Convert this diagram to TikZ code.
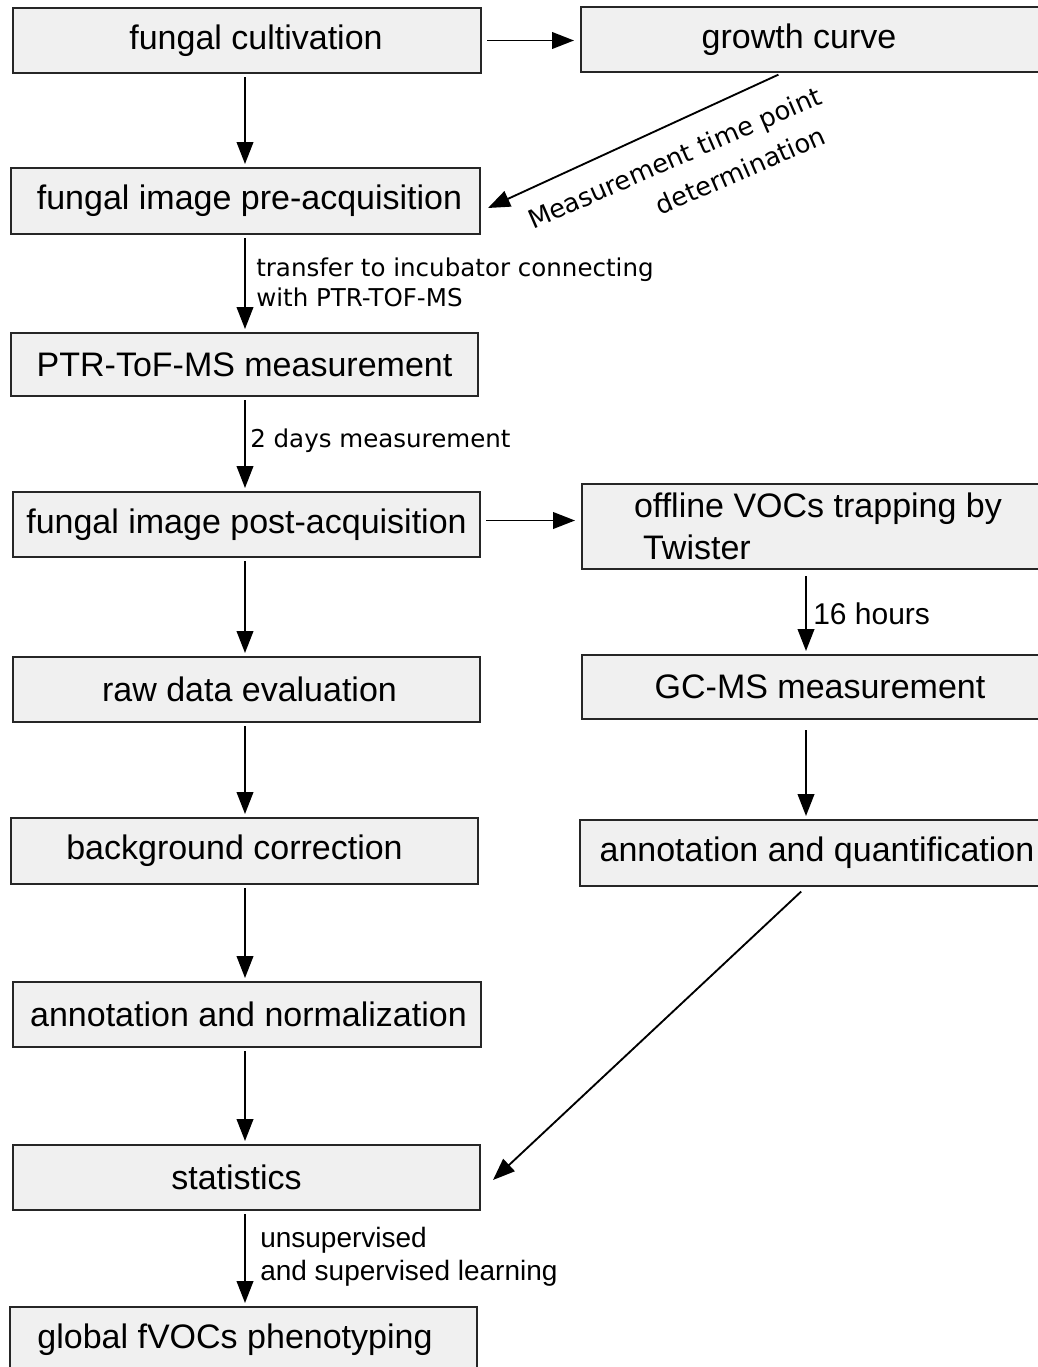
\documentclass[tikz,border=0pt]{standalone}
\usepackage{fontspec}
\setmainfont{Liberation Sans}
\newfontfamily\vfont{DejaVu Sans}
\usetikzlibrary{arrows.meta,calc}
\newdimen\pxu
\pxu=0.75pt
\begin{document}
\begin{tikzpicture}[x=0.75pt,y=-0.75pt,
  box/.style={draw=black!85,fill=black!6,line width=1.5pt,inner sep=0pt,
    font=\fontsize{25.5}{31.5}\selectfont},
  bx/.style 2 args={minimum width=#1\pxu,minimum height=#2\pxu},
  arr/.style={draw=black,line width=1.4pt,-{Triangle[length=16.5pt,width=12.5pt]},
    shorten <=2.25pt,shorten >=2.25pt},
  lblv/.style={inner sep=0pt,font=\vfont\fontsize{18.4}{22.5}\selectfont},
  lbla/.style={inner sep=0pt,font=\fontsize{22.5}{27}\selectfont},
  lblb/.style={inner sep=0pt,font=\fontsize{21}{24.75}\selectfont}]
\useasboundingbox (0,0) rectangle (1038,1367);

% left column
\node[box,bx={468}{65}] (cult) at (247,40.5) {\kern18\pxu fungal cultivation};
\node[box,bx={469}{66}] (pre)  at (245.5,201) {\kern8\pxu fungal image pre-acquisition};
\node[box,bx={467}{63}] (ptr)  at (244.5,364.5) {PTR-ToF-MS measurement};
\node[box,bx={467}{65}] (post) at (246.5,524.5) {fungal image post-acquisition};
\node[box,bx={467}{65}] (raw)  at (246.5,689.5) {\kern6\pxu raw data evaluation};
\node[box,bx={467}{66}] (bg)   at (244.5,851) {background correction\kern20\pxu};
\node[box,bx={468}{65}] (an)   at (247,1014.5) {\kern3\pxu annotation and normalization};
\node[box,bx={467}{65}] (st)   at (246.5,1177.5) {statistics\kern20\pxu};
\node[box,bx={467}{65}] (gl)   at (243.5,1339.5) {global fVOCs phenotyping\kern17\pxu};

% right column
\node[box,bx={468}{65}] (grow) at (815,39.5) {growth curve\kern32\pxu};
\node[box,bx={468}{85},align=left] (off) at (816,526.5)
  {\kern4\pxu offline VOCs trapping by\\\kern4\pxu\hspace*{9\pxu}Twister};
\node[box,bx={468}{64}] (gc)   at (816,687) {\kern8\pxu GC-MS measurement};
\node[box,bx={468}{66}] (aq)   at (814,853) {\kern6\pxu annotation and quantification};

% column lines for the vertical connectors
\coordinate (xl) at (245,0);
\coordinate (xr) at (806,0);
\coordinate (gx) at (782,0);

\draw[arr] (cult.south -| xl) -- (pre.north -| xl);
\draw[arr] (pre.south -| xl) -- (ptr.north -| xl);
\draw[arr] (ptr.south -| xl) -- (post.north -| xl);
\draw[arr] (post.south -| xl) -- (raw.north -| xl);
\draw[arr] (raw.south -| xl) -- (bg.north -| xl);
\draw[arr] (bg.south -| xl) -- (an.north -| xl);
\draw[arr] (an.south -| xl) -- (st.north -| xl);
\draw[arr] (st.south -| xl) -- (gl.north -| xl);

\draw[arr,shorten <=3.75pt,shorten >=4.5pt] (cult.east) -- (cult.east -| grow.west);
\draw[arr,shorten <=3.75pt,shorten >=4.5pt] ([yshift=3pt]post.east) -- ([yshift=3pt]post.east -| off.west);

\draw[arr,shorten <=4.5pt] (off.south -| xr) -- (gc.north -| xr);
\draw[arr,shorten <=7.5pt] (gc.south -| xr) -- (aq.north -| xr);

\draw[arr,shorten <=3pt,shorten >=0pt] (grow.south -| gx) -- ($(pre.east)+(7,7)$);
\draw[arr,shorten <=5pt,shorten >=0pt] (aq.south -| xr) -- ($(st.east)+(12,2.5)$);

% connector labels
\node[lblv,anchor=west,align=left] (l1) at (256,282)
  {transfer to incubator connecting\\with PTR-TOF-MS};
\node[lblv,anchor=west] (l2) at (250,441) {2 days measurement};
\node[lbla,anchor=west] (l3) at (813,614) {16 hours};
\node[lblb,anchor=west,align=left] (l4) at (260,1257)
  {unsupervised\\and supervised learning};
\node[lblv,rotate=23.5,align=right,font=\vfont\fontsize{19.3}{28.5}\selectfont] (l5) at (682,175)
  {Measurement time point\\determination\hspace*{12\pxu}};
\end{tikzpicture}
\end{document}
